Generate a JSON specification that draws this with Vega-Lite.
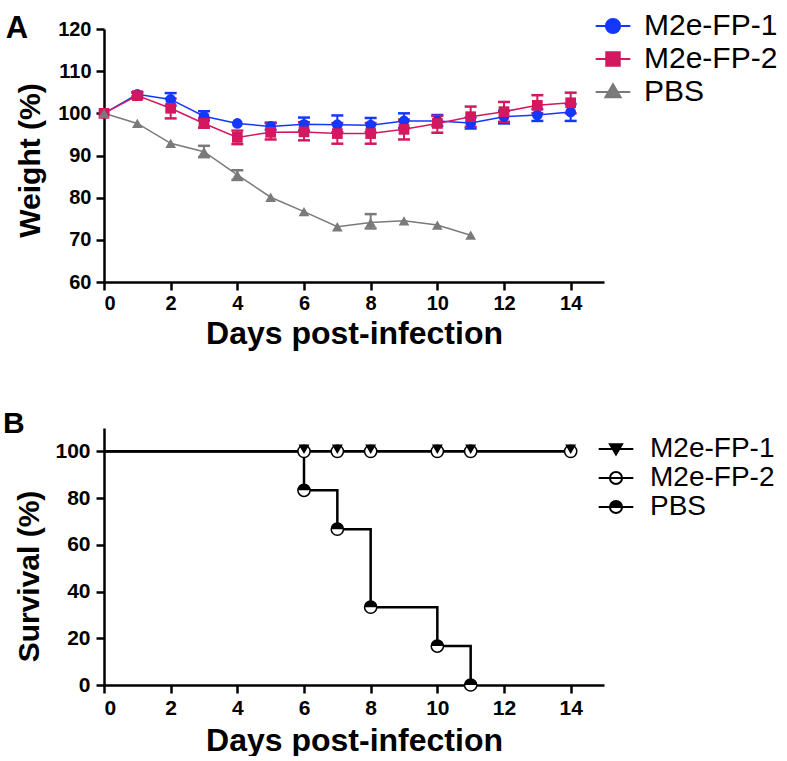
{
  "$schema": "https://vega.github.io/schema/vega-lite/v6.json",
  "padding": {"left": 2, "top": 11, "right": 0, "bottom": 0},
  "background": "white",
  "spacing": 60,
  "datasets": {
    "weight": [
      {"group": "M2e-FP-1", "day": 0, "w": 100, "lo": null, "hi": null},
      {"group": "M2e-FP-1", "day": 1, "w": 104.5, "lo": 104.0, "hi": 105.0},
      {"group": "M2e-FP-1", "day": 2, "w": 103.3, "lo": 101.8, "hi": 104.8},
      {"group": "M2e-FP-1", "day": 3, "w": 99.3, "lo": 98.3, "hi": 100.5},
      {"group": "M2e-FP-1", "day": 4, "w": 97.6, "lo": null, "hi": null},
      {"group": "M2e-FP-1", "day": 5, "w": 96.9, "lo": 96.1, "hi": 97.7},
      {"group": "M2e-FP-1", "day": 6, "w": 97.4, "lo": 95.9, "hi": 99.0},
      {"group": "M2e-FP-1", "day": 7, "w": 97.3, "lo": 95.5, "hi": 99.5},
      {"group": "M2e-FP-1", "day": 8, "w": 97.2, "lo": 95.5, "hi": 98.9},
      {"group": "M2e-FP-1", "day": 9, "w": 98.2, "lo": 96.5, "hi": 100.0},
      {"group": "M2e-FP-1", "day": 10, "w": 98.2, "lo": 97.0, "hi": 99.6},
      {"group": "M2e-FP-1", "day": 11, "w": 97.7, "lo": 96.4, "hi": 99.0},
      {"group": "M2e-FP-1", "day": 12, "w": 99.2, "lo": 97.6, "hi": 100.6},
      {"group": "M2e-FP-1", "day": 13, "w": 99.6, "lo": 98.2, "hi": 101.0},
      {"group": "M2e-FP-1", "day": 14, "w": 100.3, "lo": 98.2, "hi": 102.2},
      {"group": "M2e-FP-2", "day": 0, "w": 100, "lo": null, "hi": null},
      {"group": "M2e-FP-2", "day": 1, "w": 104.2, "lo": 103.5, "hi": 104.9},
      {"group": "M2e-FP-2", "day": 2, "w": 101.2, "lo": 98.8, "hi": 103.5},
      {"group": "M2e-FP-2", "day": 3, "w": 97.6, "lo": 96.6, "hi": 98.8},
      {"group": "M2e-FP-2", "day": 4, "w": 94.3, "lo": 92.7, "hi": 95.9},
      {"group": "M2e-FP-2", "day": 5, "w": 95.5, "lo": 93.8, "hi": 97.8},
      {"group": "M2e-FP-2", "day": 6, "w": 95.6, "lo": 93.6, "hi": 97.9},
      {"group": "M2e-FP-2", "day": 7, "w": 95.2, "lo": 92.8, "hi": 97.7},
      {"group": "M2e-FP-2", "day": 8, "w": 95.2, "lo": 92.8, "hi": 97.7},
      {"group": "M2e-FP-2", "day": 9, "w": 96.2, "lo": 93.8, "hi": 98.5},
      {"group": "M2e-FP-2", "day": 10, "w": 97.6, "lo": 95.4, "hi": 99.4},
      {"group": "M2e-FP-2", "day": 11, "w": 99.2, "lo": 96.8, "hi": 101.6},
      {"group": "M2e-FP-2", "day": 12, "w": 100.4, "lo": 98.0, "hi": 102.7},
      {"group": "M2e-FP-2", "day": 13, "w": 101.9, "lo": 100.0, "hi": 104.3},
      {"group": "M2e-FP-2", "day": 14, "w": 102.5, "lo": 100.0, "hi": 104.9},
      {"group": "PBS", "day": 0, "w": 100, "lo": null, "hi": null},
      {"group": "PBS", "day": 1, "w": 97.6, "lo": null, "hi": null},
      {"group": "PBS", "day": 2, "w": 92.9, "lo": null, "hi": null},
      {"group": "PBS", "day": 3, "w": 90.9, "lo": 89.6, "hi": 92.3},
      {"group": "PBS", "day": 4, "w": 85.4, "lo": 84.2, "hi": 86.5},
      {"group": "PBS", "day": 5, "w": 80.1, "lo": null, "hi": null},
      {"group": "PBS", "day": 6, "w": 76.7, "lo": null, "hi": null},
      {"group": "PBS", "day": 7, "w": 73.1, "lo": null, "hi": null},
      {"group": "PBS", "day": 8, "w": 74.1, "lo": 72.7, "hi": 76.1},
      {"group": "PBS", "day": 9, "w": 74.5, "lo": null, "hi": null},
      {"group": "PBS", "day": 10, "w": 73.5, "lo": null, "hi": null},
      {"group": "PBS", "day": 11, "w": 71.1, "lo": null, "hi": null}
    ],
    "survival": [
      {"group": "M2e-FP-1", "day": 0, "s": 100},
      {"group": "M2e-FP-1", "day": 14, "s": 100},
      {"group": "M2e-FP-2", "day": 0, "s": 100},
      {"group": "M2e-FP-2", "day": 14, "s": 100},
      {"group": "PBS", "day": 0, "s": 100},
      {"group": "PBS", "day": 6, "s": 83.33},
      {"group": "PBS", "day": 7, "s": 66.67},
      {"group": "PBS", "day": 8, "s": 33.33},
      {"group": "PBS", "day": 10, "s": 16.67},
      {"group": "PBS", "day": 11, "s": 0}
    ],
    "survMarks": [
      {"group": "M2e-FP-1", "day": 6, "s": 100},
      {"group": "M2e-FP-1", "day": 7, "s": 100},
      {"group": "M2e-FP-1", "day": 8, "s": 100},
      {"group": "M2e-FP-1", "day": 10, "s": 100},
      {"group": "M2e-FP-1", "day": 11, "s": 100},
      {"group": "M2e-FP-1", "day": 14, "s": 100},
      {"group": "M2e-FP-2", "day": 6, "s": 100},
      {"group": "M2e-FP-2", "day": 7, "s": 100},
      {"group": "M2e-FP-2", "day": 8, "s": 100},
      {"group": "M2e-FP-2", "day": 10, "s": 100},
      {"group": "M2e-FP-2", "day": 11, "s": 100},
      {"group": "M2e-FP-2", "day": 14, "s": 100},
      {"group": "PBS", "day": 6, "s": 83.33},
      {"group": "PBS", "day": 7, "s": 66.67},
      {"group": "PBS", "day": 8, "s": 33.33},
      {"group": "PBS", "day": 10, "s": 16.67},
      {"group": "PBS", "day": 11, "s": 0}
    ]
  },
  "config": {
    "view": {"stroke": null},
    "font": "Liberation Sans",
    "axis": {
      "grid": false,
      "domainColor": "black",
      "domainWidth": 2.5,
      "tickColor": "black",
      "tickWidth": 2.5,
      "tickSize": 8,
      "labelFont": "Liberation Sans",
      "labelFontWeight": "bold",
      "labelColor": "black",
      "titleFont": "Liberation Sans",
      "titleFontWeight": "bold",
      "titleFontSize": 30,
      "titleColor": "black"
    },
    "legend": {"padding": 0}
  },
  "resolve": {"scale": {"color": "independent", "fill": "independent", "stroke": "independent", "shape": "independent", "x": "independent", "y": "independent"}, "legend": {"color": "independent", "fill": "independent", "stroke": "independent"}},
  "vconcat": [
    {
      "width": 500,
      "height": 253,
      "title": {"text": "A", "anchor": "start", "frame": "bounds", "font": "Liberation Sans", "fontSize": 31, "fontWeight": "bold", "color": "black", "dx": -10, "dy": 38},
      "data": {"name": "weight"},
      "layer": [
        {
          "transform": [{"filter": "isValid(datum.lo)"}],
          "mark": {"type": "rule", "strokeWidth": 2},
          "encoding": {
            "x": {"field": "day", "type": "quantitative", "title": "Days post-infection"},
            "y": {"field": "lo", "type": "quantitative", "title": "Weight (%)"},
            "y2": {"field": "hi"},
            "stroke": {"field": "group", "type": "nominal", "legend": null, "scale": {"domain": ["PBS", "M2e-FP-1", "M2e-FP-2"], "range": ["#7a7a7a", "#1437ff", "#d3185f"]}}
          }
        },
        {
          "transform": [{"filter": "isValid(datum.lo)"}],
          "mark": {"type": "tick", "orient": "horizontal", "size": 12, "thickness": 2.5, "opacity": 1},
          "encoding": {
            "x": {"field": "day", "type": "quantitative", "title": "Days post-infection"},
            "y": {"field": "lo", "type": "quantitative", "title": "Weight (%)"},
            "fill": {"field": "group", "type": "nominal", "legend": null, "scale": {"domain": ["PBS", "M2e-FP-1", "M2e-FP-2"], "range": ["#7a7a7a", "#1437ff", "#d3185f"]}}
          }
        },
        {
          "transform": [{"filter": "isValid(datum.hi)"}],
          "mark": {"type": "tick", "orient": "horizontal", "size": 12, "thickness": 2.5, "opacity": 1},
          "encoding": {
            "x": {"field": "day", "type": "quantitative", "title": "Days post-infection"},
            "y": {"field": "hi", "type": "quantitative", "title": "Weight (%)"},
            "fill": {"field": "group", "type": "nominal", "legend": null}
          }
        },
        {
          "mark": {"type": "line", "strokeWidth": 1.5},
          "encoding": {
            "x": {"field": "day", "type": "quantitative", "title": "Days post-infection", "scale": {"domain": [0, 15], "nice": false}, "axis": {"values": [0, 2, 4, 6, 8, 10, 12, 14], "labelFontSize": 20, "labelPadding": 3, "titlePadding": 5, "titleFontSize": 32}},
            "y": {"field": "w", "type": "quantitative", "title": "Weight (%)", "scale": {"domain": [60, 120], "nice": false, "zero": false}, "axis": {"values": [60, 70, 80, 90, 100, 110, 120], "labelFontSize": 20, "labelPadding": 5, "titlePadding": 12, "titleY": 131}},
            "color": {
              "field": "group", "type": "nominal",
              "scale": {"domain": ["M2e-FP-1", "M2e-FP-2", "PBS"], "range": ["#1437ff", "#d3185f", "#7a7a7a"]},
              "legend": {
                "orient": "none", "legendX": 494, "legendY": -18, "title": null,
                "labelFont": "Liberation Sans", "labelFontSize": 30, "labelColor": "black",
                "symbolSize": 300, "symbolStrokeWidth": 2, "labelOffset": 16, "rowPadding": 3,
                "encode": {
                  "symbols": {
                    "update": {
                      "shape": {"signal": "datum.value === 'M2e-FP-1' ? 'M-2,0H2M-0.82,0A0.82,0.82 0 1,1 0.82,0A0.82,0.82 0 1,1 -0.82,0' : datum.value === 'M2e-FP-2' ? 'M-2,0H2M-0.78,-0.78H0.78V0.78H-0.78Z' : 'M-2,0H2M0,-0.9L0.88,0.6H-0.88Z'"},
                      "fill": {"signal": "datum.value === 'M2e-FP-1' ? '#1437ff' : datum.value === 'M2e-FP-2' ? '#d3185f' : '#7a7a7a'"},
                      "stroke": {"signal": "datum.value === 'M2e-FP-1' ? '#1437ff' : datum.value === 'M2e-FP-2' ? '#d3185f' : '#7a7a7a'"},
                      "strokeWidth": {"value": 2},
                      "opacity": {"value": 1}
                    }
                  }
                }
              }
            }
          }
        },
        {
          "mark": {"type": "point", "filled": true, "opacity": 1, "size": 115},
          "encoding": {
            "x": {"field": "day", "type": "quantitative", "title": "Days post-infection"},
            "y": {"field": "w", "type": "quantitative", "title": "Weight (%)"},
            "shape": {"field": "group", "type": "nominal", "scale": {"domain": ["M2e-FP-2", "M2e-FP-1", "PBS"], "range": ["square", "circle", "triangle-up"]}, "legend": null},
            "fill": {"field": "group", "type": "nominal", "legend": null}
          }
        }
      ]
    },
    {
      "width": 500,
      "height": 257,
      "title": {"text": "B", "anchor": "start", "frame": "bounds", "font": "Liberation Sans", "fontSize": 30, "fontWeight": "bold", "color": "black", "dx": -12, "dy": 15},
      "layer": [
        {
          "data": {"name": "survival"},
          "mark": {"type": "line", "interpolate": "step-after", "strokeWidth": 2.5},
          "encoding": {
            "x": {"field": "day", "type": "quantitative", "title": "Days post-infection", "scale": {"domain": [0, 15], "nice": false}, "axis": {"values": [0, 2, 4, 6, 8, 10, 12, 14], "labelFontSize": 21, "labelPadding": 4, "titlePadding": 7, "titleFontSize": 32}},
            "y": {"field": "s", "type": "quantitative", "title": "Survival (%)", "scale": {"domain": [0, 110], "nice": false}, "axis": {"values": [0, 20, 40, 60, 80, 100], "labelFontSize": 21, "labelPadding": 6, "titlePadding": 10, "titleY": 148}},
            "color": {
              "field": "group", "type": "nominal",
              "scale": {"domain": ["M2e-FP-1", "M2e-FP-2", "PBS"], "range": ["black", "black", "black"]},
              "legend": {
                "orient": "none", "legendX": 498, "legendY": 7, "title": null,
                "labelFont": "Liberation Sans", "labelFontSize": 28, "labelColor": "black",
                "symbolSize": 300, "symbolStrokeWidth": 2, "labelOffset": 20, "rowPadding": 1,
                "encode": {
                  "symbols": {
                    "update": {
                      "shape": {"signal": "datum.value === 'M2e-FP-1' ? 'M-2,0H2M-0.7,-0.55H0.7L0,0.65Z' : datum.value === 'M2e-FP-2' ? 'M-2,0H2M-0.7,0A0.7,0.7 0 1,1 0.7,0A0.7,0.7 0 1,1 -0.7,0' : 'M-2,0H2M-0.7,0A0.7,0.7 0 0,1 0.7,0ZM-0.7,0A0.7,0.7 0 0,0 0.7,0A0.7,0.7 0 0,1 -0.7,0'"},
                      "fill": {"signal": "datum.value === 'M2e-FP-2' ? 'white' : 'black'"},
                      "stroke": {"value": "black"},
                      "strokeWidth": {"value": 2},
                      "opacity": {"value": 1}
                    }
                  }
                }
              }
            }
          }
        },
        {
          "data": {"name": "survMarks"},
          "transform": [{"filter": "datum.group !== 'M2e-FP-1'"}],
          "mark": {"type": "point", "shape": "circle", "size": 150, "filled": false, "fill": "white", "fillOpacity": 1, "stroke": "black", "strokeWidth": 1.5, "opacity": 1},
          "encoding": {
            "x": {"field": "day", "type": "quantitative", "title": "Days post-infection"},
            "y": {"field": "s", "type": "quantitative", "title": "Survival (%)"}
          }
        },
        {
          "data": {"name": "survMarks"},
          "transform": [{"filter": "datum.group === 'PBS'"}],
          "mark": {"type": "point", "shape": "M-1,0A1,1 0 0,1 1,0Z", "size": 150, "filled": true, "color": "black", "opacity": 1},
          "encoding": {
            "x": {"field": "day", "type": "quantitative", "title": "Days post-infection"},
            "y": {"field": "s", "type": "quantitative", "title": "Survival (%)"}
          }
        },
        {
          "data": {"name": "survMarks"},
          "transform": [{"filter": "datum.group === 'M2e-FP-1'"}],
          "mark": {"type": "point", "shape": "triangle-down", "size": 120, "filled": true, "color": "black", "opacity": 1, "yOffset": -2},
          "encoding": {
            "x": {"field": "day", "type": "quantitative", "title": "Days post-infection"},
            "y": {"field": "s", "type": "quantitative", "title": "Survival (%)"}
          }
        }
      ]
    }
  ]
}
